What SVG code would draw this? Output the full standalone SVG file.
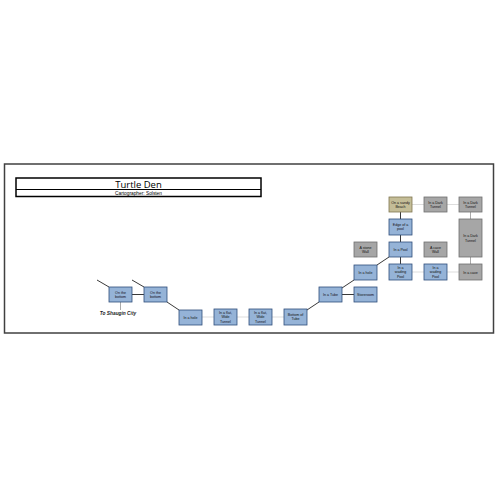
<svg xmlns="http://www.w3.org/2000/svg" width="500" height="500" viewBox="0 0 500 500">
<style>
.b{fill:#95B3D7;stroke:#2F4E7A;stroke-width:0.8}
.g{fill:#A6A6A6;stroke:#6F6F6F;stroke-width:0.8}
.s{fill:#C4BD97;stroke:#7F7650;stroke-width:0.8}
.t{font-family:"Liberation Sans",Arial,sans-serif;font-size:3.6px;fill:#111;text-anchor:middle}
.dk{stroke:#222;stroke-width:0.9;fill:none}
.lt{stroke:#D9D9D9;stroke-width:0.9;fill:none}
.md{stroke:#A0A0A0;stroke-width:0.9;fill:none}
</style>
<rect width="500" height="500" fill="#fff"/>
<rect x="4.5" y="164" width="489" height="169" fill="#fff" stroke="#404040" stroke-width="1.5"/>
<g id="title">
<rect x="16" y="178" width="245" height="18.5" fill="#fff" stroke="#000" stroke-width="1.5"/>
<line x1="16" y1="189.5" x2="261" y2="189.5" stroke="#000" stroke-width="1.2"/>
<text x="138.5" y="187.5" font-family="'Open Sans','Liberation Sans',sans-serif" font-size="9.5" text-anchor="middle" fill="#000">Turtle Den</text>
<text x="138.5" y="195" font-family="'Liberation Sans',Arial,sans-serif" font-size="4.8" text-anchor="middle" fill="#000">Cartographer: Solsten</text>
</g>
<g id="connectors">
<line class="dk" x1="97" y1="280" x2="109" y2="287"/>
<line class="dk" x1="132" y1="280" x2="144" y2="287"/>
<line class="dk" x1="132" y1="294.5" x2="144" y2="294.5"/>
<line class="md" x1="120.5" y1="302" x2="120.5" y2="310"/>
<line class="dk" x1="167" y1="302" x2="179" y2="310"/>
<line class="lt" x1="202" y1="317" x2="214" y2="317"/>
<line class="lt" x1="237" y1="317" x2="249" y2="317"/>
<line class="lt" x1="272" y1="317" x2="284" y2="317"/>
<line class="dk" x1="307" y1="310" x2="319" y2="302"/>
<line class="dk" x1="342" y1="294.5" x2="354" y2="294.5"/>
<line class="dk" x1="342" y1="288" x2="354" y2="280"/>
<line class="dk" x1="377" y1="265" x2="389" y2="257"/>
<line class="dk" x1="400.5" y1="257" x2="400.5" y2="264"/>
<line class="dk" x1="400.5" y1="235" x2="400.5" y2="242"/>
<line class="dk" x1="400.5" y1="212" x2="400.5" y2="219"/>
<line class="lt" x1="412" y1="204.5" x2="424" y2="204.5"/>
<line class="lt" x1="447" y1="204.5" x2="459" y2="204.5"/>
<line class="md" x1="470.5" y1="212" x2="470.5" y2="219"/>
<line class="md" x1="470.5" y1="257" x2="470.5" y2="264"/>
<line class="lt" x1="412" y1="272" x2="424" y2="272"/>
<line class="lt" x1="447" y1="272" x2="459" y2="272"/>
</g>
<g id="n_bottom1"><rect class="b" x="109" y="287" width="23" height="15"/><text class="t" x="120.5" y="293.5">On the</text><text class="t" x="120.5" y="298">bottom</text></g>
<g id="n_bottom2"><rect class="b" x="144" y="287" width="23" height="15"/><text class="t" x="155.5" y="293.5">On the</text><text class="t" x="155.5" y="298">bottom</text></g>
<text x="118" y="315" font-family="'Liberation Sans',Arial,sans-serif" font-size="4.8" font-weight="bold" font-style="italic" text-anchor="middle" fill="#222">To Shaugin City</text>
<g id="n_hole"><rect class="b" x="179" y="310" width="23" height="15"/><text class="t" x="190.5" y="318.5">In a hole</text></g>
<g id="n_flat1"><rect class="b" x="214" y="309" width="23" height="16"/><text class="t" x="225.5" y="313.5">In a flat,</text><text class="t" x="225.5" y="318">Wide</text><text class="t" x="225.5" y="322.5">Tunnel</text></g>
<g id="n_flat2"><rect class="b" x="249" y="309" width="23" height="16"/><text class="t" x="260.5" y="313.5">In a flat,</text><text class="t" x="260.5" y="318">Wide</text><text class="t" x="260.5" y="322.5">Tunnel</text></g>
<g id="n_bottomtube"><rect class="b" x="284" y="309" width="23" height="16"/><text class="t" x="295.5" y="315.5">Bottom of</text><text class="t" x="295.5" y="320">Tube</text></g>
<g id="n_tube"><rect class="b" x="319" y="287" width="23" height="15"/><text class="t" x="330.5" y="295.5">In a Tube</text></g>
<g id="n_store"><rect class="b" x="354" y="287" width="23" height="15"/><text class="t" x="365.5" y="295.5">Storeroom</text></g>
<g id="n_hole2"><rect class="b" x="354" y="265" width="23" height="15"/><text class="t" x="365.5" y="273.5">In a hole</text></g>
<g id="n_stone"><rect class="g" x="354" y="242" width="23" height="15"/><text class="t" x="365.5" y="248.5">A stone</text><text class="t" x="365.5" y="253">Wall</text></g>
<g id="n_pool"><rect class="b" x="389" y="242" width="23" height="15"/><text class="t" x="400.5" y="250.5">In a Pool</text></g>
<g id="n_wading1"><rect class="b" x="389" y="264" width="23" height="16"/><text class="t" x="400.5" y="268.5">In a</text><text class="t" x="400.5" y="273">wading</text><text class="t" x="400.5" y="277.5">Pool</text></g>
<g id="n_edge"><rect class="b" x="389" y="219" width="23" height="16"/><text class="t" x="400.5" y="225.5">Edge of a</text><text class="t" x="400.5" y="230">pool</text></g>
<g id="n_sandy"><rect class="s" x="389" y="197" width="23" height="15"/><text class="t" x="400.5" y="203.5">On a sandy</text><text class="t" x="400.5" y="208">Beach</text></g>
<g id="n_dark1"><rect class="g" x="424" y="197" width="23" height="15"/><text class="t" x="435.5" y="203.5">In a Dark</text><text class="t" x="435.5" y="208">Tunnel</text></g>
<g id="n_dark2"><rect class="g" x="459" y="197" width="23" height="15"/><text class="t" x="470.5" y="203.5">In a Dark</text><text class="t" x="470.5" y="208">Tunnel</text></g>
<g id="n_darktall"><rect class="g" x="459" y="219" width="23" height="38"/><text class="t" x="470.5" y="237">In a Dark</text><text class="t" x="470.5" y="241.5">Tunnel</text></g>
<g id="n_cavewall"><rect class="g" x="424" y="242" width="23" height="15"/><text class="t" x="435.5" y="248.5">A cave</text><text class="t" x="435.5" y="253">Wall</text></g>
<g id="n_wading2"><rect class="b" x="424" y="264" width="23" height="16"/><text class="t" x="435.5" y="268.5">In a</text><text class="t" x="435.5" y="273">wading</text><text class="t" x="435.5" y="277.5">Pool</text></g>
<g id="n_cave"><rect class="g" x="459" y="264" width="23" height="16"/><text class="t" x="470.5" y="273.5">In a cave</text></g>
</svg>
